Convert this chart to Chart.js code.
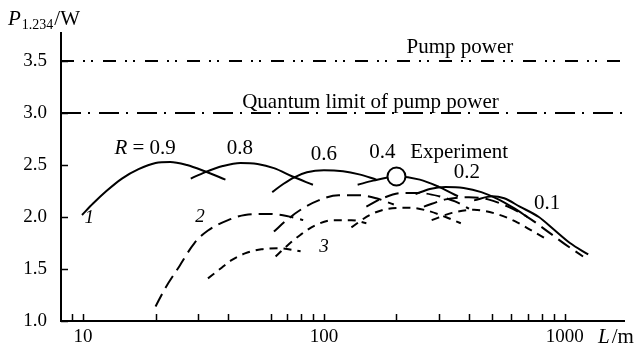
<!DOCTYPE html>
<html lang="en">
<head>
<meta charset="UTF-8" />
<title>Output power vs fibre length</title>
<style>
  body { margin: 0; background: #fff; }
  canvas { display: block; }
</style>
</head>
<body>
<canvas id="chart" width="641" height="349"></canvas>
<script src="https://cdn.jsdelivr.net/npm/chart.js@4"></script>
<script>
  // axis ranges and ticks
  const xMin = 8.1, xMax = 1760;
  const yMin = 1.0, yMax = 3.77;
  const xTickValues = [9, 10, 20, 30, 40, 60, 70, 80, 90, 100, 200, 300, 400, 500, 600, 700, 800, 900, 1000];
  const xTickLabels = [10, 100, 1000];
  const yTickValues = [1.0, 1.5, 2.0, 2.5, 3.0, 3.5];

  // reference levels (W)
  const pumpPower = 3.5;
  const quantumLimit = 3.0;

  // experiment point [L, P]
  const experiment = [[200, 2.39]];

  // curve 1 (solid), one arc per R
  const s09 = [[9.9, 2.02], [11, 2.13], [12.5, 2.25], [14.5, 2.37], [17, 2.46], [20, 2.52], [23, 2.53], [27, 2.5], [32, 2.44], [39, 2.36]];
  const s08 = [[28, 2.37], [32, 2.43], [38, 2.49], [45, 2.52], [53, 2.51], [62, 2.47], [74, 2.39], [90, 2.31]];
  const s06 = [[61, 2.24], [68, 2.32], [75, 2.38], [85, 2.43], [100, 2.45], [120, 2.44], [140, 2.41], [165, 2.36]];
  const s04 = [[138, 2.31], [160, 2.35], [200, 2.39], [250, 2.36], [300, 2.29], [360, 2.2]];
  const s02 = [[240, 2.22], [275, 2.27], [320, 2.29], [380, 2.28], [450, 2.24], [530, 2.17], [620, 2.08], [700, 2.0]];
  const s01 = [[420, 2.16], [500, 2.2], [560, 2.18], [650, 2.1], [780, 2.0], [900, 1.88], [1050, 1.75], [1250, 1.64]];

  // curve 2 (long dashes)
  const d2a = [[20, 1.14], [22, 1.32], [25, 1.52], [29, 1.75], [33, 1.87], [40, 1.97], [47, 2.02], [58, 2.03], [70, 2.01], [82, 1.97]];
  const d2b = [[62, 1.86], [70, 1.97], [80, 2.07], [95, 2.16], [115, 2.21], [140, 2.21], [165, 2.18], [195, 2.12]];
  const d2c = [[150, 2.1], [175, 2.18], [210, 2.23], [250, 2.23], [300, 2.2], [350, 2.15], [400, 2.08]];
  const d2d = [[260, 2.1], [320, 2.17], [400, 2.19], [480, 2.17], [580, 2.1], [700, 2.0], [850, 1.86], [1000, 1.74], [1190, 1.62]];

  // curve 3 (short dashes)
  const d3a = [[33, 1.41], [37, 1.5], [41, 1.58], [47, 1.65], [55, 1.69], [65, 1.7], [80, 1.67]];
  const d3b = [[63, 1.62], [70, 1.72], [80, 1.83], [92, 1.92], [110, 1.97], [130, 1.97], [150, 1.94]];
  const d3c = [[130, 1.9], [155, 2.02], [185, 2.08], [225, 2.09], [270, 2.06], [320, 2.0], [370, 1.94]];
  const d3d = [[280, 1.97], [340, 2.04], [420, 2.07], [520, 2.03], [620, 1.96], [740, 1.86], [850, 1.78]];

  // text notes: [text, L, P]
  const numberNotes = [['0.8', 44.8, 2.66], ['0.6', 100, 2.6], ['0.4', 175, 2.62], ['0.2', 392, 2.43], ['0.1', 845, 2.13]];
  const wordNotes = [['Pump power', 367, 3.63], ['Quantum limit of pump power', 156, 3.1]];
  const curveNumbers = [['1', 10.6, 1.99], ['2', 30.6, 2.0], ['3', 100, 1.71]];

  const SERIF = '"Liberation Serif", "DejaVu Serif", serif';

  function pts(arr) {
    return arr.map(p => ({ x: p[0], y: p[1] }));
  }

  function curve(arr, dash) {
    return {
      data: pts(arr),
      borderColor: '#000',
      borderWidth: 2,
      borderDash: dash,
      borderCapStyle: 'butt',
      pointRadius: 0,
      fill: false,
      cubicInterpolationMode: 'monotone',
      order: 2
    };
  }

  function level(value, dash) {
    return {
      data: [{ x: xMin, y: value }, { x: xMax, y: value }],
      borderColor: '#000',
      borderWidth: 2,
      borderDash: dash,
      borderCapStyle: 'butt',
      pointRadius: 0,
      fill: false,
      order: 2
    };
  }

  const longDash = [14, 7];
  const shortDash = [8, 6];

  const datasets = [
    {
      data: pts(experiment),
      showLine: false,
      pointRadius: 9,
      pointBackgroundColor: '#fff',
      pointBorderColor: '#000',
      pointBorderWidth: 2,
      order: 0
    },
    level(pumpPower, [13, 9, 2, 6, 2, 10]),
    level(quantumLimit, [20, 7, 2, 9]),
    curve(s09, []), curve(s08, []), curve(s06, []), curve(s04, []), curve(s02, []), curve(s01, []),
    curve(d2a, longDash), curve(d2b, longDash), curve(d2c, longDash), curve(d2d, longDash),
    curve(d3a, shortDash), curve(d3b, shortDash), curve(d3c, shortDash), curve(d3d, shortDash)
  ];

  const decor = {
    id: 'decor',
    afterDraw(chart) {
      const ctx = chart.ctx;
      const xs = chart.scales.x, ys = chart.scales.y;
      const area = chart.chartArea;
      ctx.save();
      ctx.strokeStyle = '#000';
      ctx.fillStyle = '#000';
      ctx.lineWidth = 1.5;

      // inward ticks
      ctx.beginPath();
      xTickValues.forEach(v => {
        const px = Math.round(xs.getPixelForValue(v)) + 0.5;
        ctx.moveTo(px, area.bottom);
        ctx.lineTo(px, area.bottom - 7);
      });
      yTickValues.forEach(v => {
        const py = Math.round(ys.getPixelForValue(v)) + 0.5;
        ctx.moveTo(area.left, py);
        ctx.lineTo(area.left + 7, py);
      });
      ctx.stroke();

      ctx.textBaseline = 'middle';
      ctx.textAlign = 'center';

      // R = 0.9
      let px = xs.getPixelForValue(18.1), py = ys.getPixelForValue(2.66);
      ctx.font = 'italic 21px ' + SERIF;
      const wR = ctx.measureText('R').width;
      ctx.font = '21px ' + SERIF;
      const wRest = ctx.measureText(' = 0.9').width;
      ctx.textAlign = 'left';
      ctx.font = 'italic 21px ' + SERIF;
      ctx.fillText('R', px - (wR + wRest) / 2, py);
      ctx.font = '21px ' + SERIF;
      ctx.fillText(' = 0.9', px - (wR + wRest) / 2 + wR, py);

      ctx.textAlign = 'center';
      numberNotes.forEach(n => {
        ctx.fillText(n[0], xs.getPixelForValue(n[1]), ys.getPixelForValue(n[2]));
      });

      ctx.font = '21px ' + SERIF;
      wordNotes.forEach(n => {
        ctx.fillText(n[0], xs.getPixelForValue(n[1]), ys.getPixelForValue(n[2]));
      });
      ctx.textAlign = 'left';
      ctx.fillText('Experiment', xs.getPixelForValue(228), ys.getPixelForValue(2.62));

      ctx.textAlign = 'center';
      ctx.font = 'italic 19px ' + SERIF;
      curveNumbers.forEach(n => {
        ctx.fillText(n[0], xs.getPixelForValue(n[1]), ys.getPixelForValue(n[2]));
      });

      // y axis title
      ctx.textAlign = 'left';
      ctx.textBaseline = 'alphabetic';
      let tx = 8;
      ctx.font = 'italic 21px ' + SERIF;
      ctx.fillText('P', tx, 25);
      tx += ctx.measureText('P').width + 1;
      ctx.font = '14px ' + SERIF;
      ctx.fillText('1.234', tx, 29);
      tx += ctx.measureText('1.234').width + 1;
      ctx.font = '21px ' + SERIF;
      ctx.fillText('/W', tx, 25);

      // x axis title
      tx = 598;
      ctx.font = 'italic 21px ' + SERIF;
      ctx.fillText('L', tx, 343);
      tx += ctx.measureText('L').width + 2;
      ctx.font = '21px ' + SERIF;
      ctx.fillText('/m', tx, 343);

      ctx.restore();
    }
  };

  new Chart(document.getElementById('chart'), {
    type: 'line',
    data: { datasets: datasets },
    options: {
      responsive: false,
      animation: false,
      layout: { padding: { left: 0, top: 33, right: 17, bottom: 0 } },
      plugins: {
        legend: { display: false },
        tooltip: { enabled: false }
      },
      scales: {
        x: {
          type: 'logarithmic',
          min: xMin,
          max: xMax,
          afterBuildTicks: scale => { scale.ticks = xTickValues.map(v => ({ value: v })); },
          afterFit: scale => { scale.height = 28; },
          grid: { display: true, drawOnChartArea: false, drawTicks: false },
          border: { display: true, color: '#000', width: 2 },
          ticks: {
            autoSkip: false,
            maxRotation: 0,
            padding: 5,
            color: '#000',
            font: { family: SERIF, size: 19 },
            callback: v => (xTickLabels.includes(v) ? String(v) : '')
          }
        },
        y: {
          type: 'linear',
          min: yMin,
          max: yMax,
          afterBuildTicks: scale => { scale.ticks = yTickValues.map(v => ({ value: v })); },
          afterFit: scale => { scale.width = 61; },
          grid: { display: true, drawOnChartArea: false, drawTicks: false },
          border: { display: true, color: '#000', width: 2 },
          ticks: {
            padding: 14,
            color: '#000',
            font: { family: SERIF, size: 19 },
            callback: v => Number(v).toFixed(1)
          }
        }
      }
    },
    plugins: [decor]
  });
</script>
</body>
</html>
